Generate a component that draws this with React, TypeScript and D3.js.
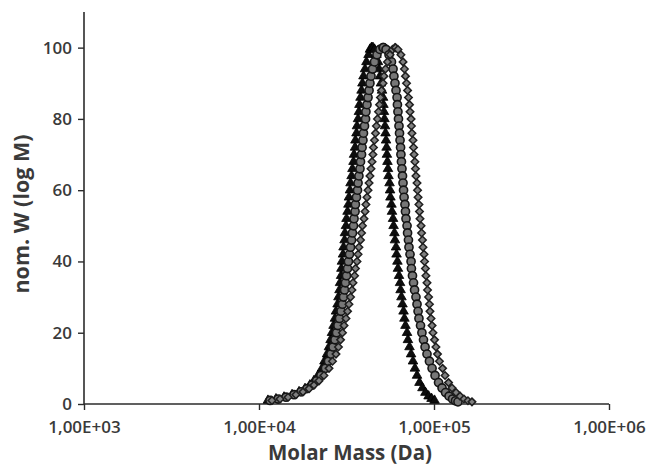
import { useEffect, useRef } from 'react';
import * as d3 from 'd3';

// log10 of molar mass (Da) and normalised W(log M)
const triangles = [
  [4.051, 1.0], [4.097, 1.4], [4.143, 1.9], [4.189, 2.6], [4.229, 3.4], [4.263, 4.3], [4.291, 5.3], [4.314, 6.5],
  [4.337, 8], [4.36, 10], [4.374, 12], [4.389, 14], [4.4, 16], [4.409, 18], [4.417, 20], [4.426, 22], [4.434, 24],
  [4.44, 26], [4.449, 28], [4.454, 30], [4.46, 32], [4.463, 34], [4.469, 36], [4.471, 38], [4.474, 40], [4.48, 42],
  [4.483, 44], [4.489, 46], [4.491, 48], [4.497, 50], [4.5, 52], [4.506, 54], [4.511, 56], [4.514, 58], [4.52, 60],
  [4.523, 62], [4.529, 64], [4.534, 66], [4.54, 68], [4.543, 70], [4.549, 72], [4.551, 74], [4.557, 76], [4.56, 78],
  [4.566, 80], [4.571, 82], [4.574, 84], [4.58, 86], [4.586, 88], [4.591, 90], [4.597, 92], [4.606, 94], [4.614, 96],
  [4.626, 98], [4.634, 99.5], [4.643, 100],
  [4.651, 100], [4.66, 99.5], [4.671, 98], [4.68, 96], [4.686, 94], [4.691, 92], [4.697, 90], [4.703, 88], [4.709, 86],
  [4.711, 84], [4.714, 82], [4.717, 80], [4.72, 78], [4.723, 76], [4.726, 74], [4.729, 72], [4.731, 70], [4.734, 68],
  [4.737, 66], [4.74, 64], [4.746, 62], [4.749, 60], [4.751, 58], [4.757, 56], [4.76, 54], [4.766, 52], [4.769, 50],
  [4.774, 48], [4.777, 46], [4.783, 44], [4.786, 42], [4.791, 40], [4.794, 38], [4.8, 36], [4.806, 34], [4.809, 32],
  [4.814, 30], [4.82, 28], [4.826, 26], [4.831, 24], [4.837, 22], [4.846, 20], [4.851, 18], [4.86, 16], [4.869, 14],
  [4.88, 12], [4.891, 10], [4.903, 8], [4.917, 6], [4.934, 4.5], [4.951, 3.2], [4.969, 2.2], [4.986, 1.5], [5.003, 1.0],
];

const circles = [
  [4.063, 1.0], [4.109, 1.4], [4.154, 1.9], [4.2, 2.6], [4.24, 3.4], [4.274, 4.3], [4.303, 5.3], [4.329, 6.5],
  [4.354, 8], [4.38, 10], [4.397, 12], [4.411, 14], [4.423, 16], [4.434, 18], [4.443, 20], [4.451, 22], [4.46, 24],
  [4.469, 26], [4.477, 28], [4.483, 30], [4.489, 32], [4.494, 34], [4.5, 36], [4.506, 38], [4.511, 40], [4.517, 42],
  [4.523, 44], [4.529, 46], [4.534, 48], [4.54, 50], [4.543, 52], [4.549, 54], [4.551, 56], [4.557, 58], [4.563, 60],
  [4.566, 62], [4.571, 64], [4.577, 66], [4.58, 68], [4.586, 70], [4.589, 72], [4.594, 74], [4.597, 76], [4.603, 78],
  [4.609, 80], [4.611, 82], [4.617, 84], [4.623, 86], [4.629, 88], [4.634, 90], [4.64, 92], [4.649, 94], [4.66, 96],
  [4.674, 98], [4.691, 99.5], [4.709, 100],
  [4.711, 100], [4.726, 99.5], [4.743, 98], [4.757, 96], [4.766, 94], [4.771, 92], [4.777, 90], [4.783, 88], [4.789, 86],
  [4.791, 84], [4.794, 82], [4.797, 80], [4.8, 78], [4.803, 76], [4.806, 74], [4.809, 72], [4.811, 70], [4.814, 68],
  [4.817, 66], [4.82, 64], [4.823, 62], [4.826, 60], [4.829, 58], [4.834, 56], [4.837, 54], [4.84, 52], [4.846, 50],
  [4.849, 48], [4.854, 46], [4.857, 44], [4.863, 42], [4.869, 40], [4.871, 38], [4.877, 36], [4.883, 34], [4.889, 32],
  [4.897, 30], [4.903, 28], [4.909, 26], [4.914, 24], [4.923, 22], [4.931, 20], [4.94, 18], [4.949, 16], [4.96, 14],
  [4.974, 12], [4.989, 10], [5.006, 8], [5.026, 6], [5.046, 4.5], [5.066, 3.2], [5.086, 2.2], [5.106, 1.4],
  [5.123, 0.9], [5.137, 0.6],
];

const diamonds = [
  [4.074, 1.0], [4.12, 1.4], [4.166, 1.9], [4.211, 2.6], [4.251, 3.4], [4.286, 4.3], [4.314, 5.3], [4.343, 6.5],
  [4.371, 8], [4.4, 10], [4.42, 12], [4.44, 14], [4.454, 16], [4.466, 18], [4.477, 20], [4.486, 22], [4.497, 24],
  [4.506, 26], [4.514, 28], [4.523, 30], [4.531, 32], [4.537, 34], [4.546, 36], [4.551, 38], [4.56, 40], [4.566, 42],
  [4.571, 44], [4.58, 46], [4.586, 48], [4.591, 50], [4.6, 52], [4.606, 54], [4.611, 56], [4.617, 58], [4.623, 60],
  [4.629, 62], [4.634, 64], [4.64, 66], [4.646, 68], [4.651, 70], [4.654, 72], [4.66, 74], [4.666, 76], [4.671, 78],
  [4.677, 80], [4.683, 82], [4.689, 84], [4.694, 86], [4.7, 88], [4.709, 90], [4.714, 92], [4.723, 94], [4.734, 96],
  [4.749, 98], [4.763, 99.5], [4.777, 100],
  [4.78, 100], [4.794, 99.5], [4.811, 98], [4.823, 96], [4.831, 94], [4.837, 92], [4.843, 90], [4.849, 88], [4.854, 86],
  [4.86, 84], [4.863, 82], [4.869, 80], [4.871, 78], [4.874, 76], [4.88, 74], [4.883, 72], [4.886, 70], [4.891, 68],
  [4.894, 66], [4.897, 64], [4.903, 62], [4.906, 60], [4.909, 58], [4.914, 56], [4.917, 54], [4.92, 52], [4.926, 50],
  [4.929, 48], [4.934, 46], [4.937, 44], [4.943, 42], [4.946, 40], [4.951, 38], [4.954, 36], [4.96, 34], [4.963, 32],
  [4.969, 30], [4.974, 28], [4.977, 26], [4.983, 24], [4.989, 22], [4.994, 20], [5.003, 18], [5.011, 16], [5.02, 14],
  [5.031, 12], [5.049, 10], [5.063, 8], [5.083, 6], [5.103, 4.5], [5.126, 3.2], [5.149, 2.2], [5.171, 1.4],
  [5.194, 0.9], [5.217, 0.6],
];

const xTicks = [1e3, 1e4, 1e5, 1e6];
const yTicks = [0, 20, 40, 60, 80, 100];

const MassChart = () => {
  const chart = useRef(null);

  useEffect(() => {
    document.body.style.margin = '0';
    const width = 648;
    const height = 466;
    const margin = { top: 12, right: 39, bottom: 62, left: 84 };

    const svg = d3.select(chart.current)
      .attr('width', width)
      .attr('height', height)
      .style('display', 'block')
      .style('background', '#fff');
    svg.selectAll('*').remove();

    const x = d3.scaleLog()
      .domain([1e3, 1e6])
      .range([margin.left, width - margin.right]);

    const y = d3.scaleLinear()
      .domain([0, 110])
      .range([height - margin.bottom, margin.top]);

    const font = "'Open Sans', sans-serif";
    const textColor = '#3a3a3a';
    const axisColor = '#2b2b2b';

    // axes
    const xAxis = svg.append('g')
      .attr('transform', `translate(0,${y(0)})`)
      .call(d3.axisBottom(x)
        .tickValues(xTicks)
        .tickSize(6)
        .tickPadding(11)
        .tickFormat((d) => '1,00E+0' + Math.round(Math.log10(d))));

    const yAxis = svg.append('g')
      .attr('transform', `translate(${x(1e3)},0)`)
      .call(d3.axisLeft(y)
        .tickValues(yTicks)
        .tickSize(6)
        .tickPadding(6));

    [xAxis, yAxis].forEach((a) => {
      a.select('.domain').attr('stroke', axisColor).attr('stroke-width', 1.6);
      a.selectAll('.tick line').attr('stroke', axisColor).attr('stroke-width', 1.4);
      a.selectAll('.tick text')
        .attr('fill', textColor)
        .attr('font-family', font)
        .attr('font-weight', 600)
        .attr('font-size', '17px');
    });
    // plain axis lines, the y one running up to 110
    yAxis.select('.domain').attr('d', `M0,${y(110)}V${y(0)}`);
    xAxis.select('.domain').attr('d', `M${x(1e3)},0H${x(1e6)}`);

    // axis titles
    svg.append('text')
      .text('Molar Mass (Da)')
      .attr('x', 350)
      .attr('y', 460)
      .attr('text-anchor', 'middle')
      .attr('fill', textColor)
      .attr('font-family', font)
      .attr('font-weight', 700)
      .attr('font-size', '20.5px');

    svg.append('text')
      .text('nom. W (log M)')
      .attr('transform', `translate(29,214) rotate(-90)`)
      .attr('text-anchor', 'middle')
      .attr('fill', textColor)
      .attr('font-family', font)
      .attr('font-weight', 700)
      .attr('font-size', '21.5px');

    // markers
    const series = [
      { data: triangles, symbol: d3.symbolTriangle, size: 40, fill: '#0d0d0d', stroke: '#000', sw: 0.8 },
      { data: circles, symbol: d3.symbolCircle, size: 52, fill: '#777', stroke: '#151515', sw: 1.6 },
      { data: diamonds, symbol: d3.symbolDiamond2, size: 36, fill: '#808080', stroke: '#1f1f1f', sw: 1.5 },
    ];

    series.forEach((s, i) => {
      const path = d3.symbol().type(s.symbol).size(s.size)();
      svg.append('g')
        .attr('class', `series-${i}`)
        .selectAll('path')
        .data(s.data)
        .join('path')
        .attr('d', path)
        .attr('transform', (d) => `translate(${x(10 ** d[0])},${y(d[1])})`)
        .attr('fill', s.fill)
        .attr('stroke', s.stroke)
        .attr('stroke-width', s.sw);
    });
  }, []);

  return <svg ref={chart}></svg>;
};

export default function App() {
  return <MassChart />;
}
